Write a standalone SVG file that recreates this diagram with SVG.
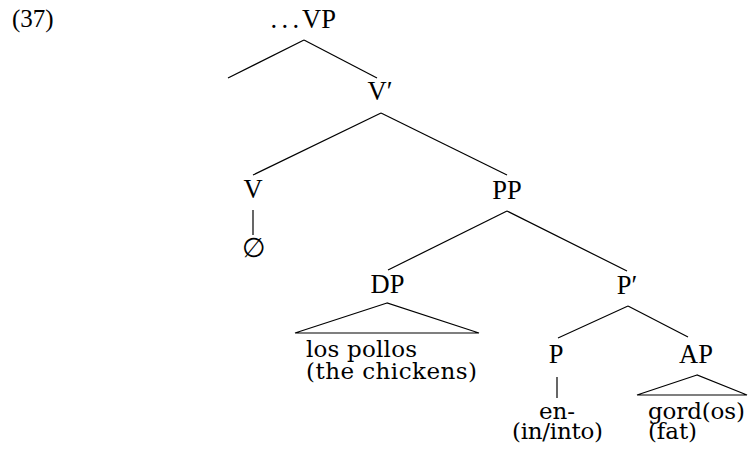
<svg xmlns="http://www.w3.org/2000/svg" width="749" height="460" viewBox="0 0 749 460">
<style>
  text { font-family: "Liberation Serif", "DejaVu Serif", serif; font-size: 26.5px; fill: #000; }
  .c { text-anchor: middle; }
  .leaf { font-family: "DejaVu Serif", "Liberation Serif", serif; font-size: 23px; }
  line, polygon { stroke: #000; stroke-width: 1.2; fill: none; }
</style>
<rect width="749" height="460" fill="#fff"/>
<text id="num" x="12" y="27" style="font-size:25px">(37)</text>
<g id="connectors">
  <line x1="304" y1="40" x2="228" y2="78"/>
  <line x1="304" y1="40" x2="377" y2="78"/>
  <line x1="381" y1="113" x2="253" y2="175"/>
  <line x1="381" y1="113" x2="507" y2="175"/>
  <line x1="253" y1="210" x2="253" y2="235"/>
  <line x1="507" y1="211" x2="388" y2="270"/>
  <line x1="507" y1="211" x2="627" y2="271"/>
  <polygon points="387,303 295,333 479,333"/>
  <line x1="628" y1="306" x2="558" y2="338"/>
  <line x1="628" y1="306" x2="688" y2="337"/>
  <line x1="557" y1="377" x2="557" y2="398"/>
  <polygon points="697,375 637,395 747,395"/>
</g>
<g id="node-VP"><text y="28"><tspan x="270.5 281.5 292.5">...</tspan><tspan x="302">VP</tspan></text></g>
<g id="node-Vbar"><text class="c" x="380" y="100">V′</text></g>
<g id="node-V"><text class="c" x="253" y="198">V</text></g>
<g id="node-empty"><text class="c" x="254" y="257">∅</text></g>
<g id="node-PP"><text class="c" x="507" y="199">PP</text></g>
<g id="node-DP"><text class="c" x="387.5" y="293">DP</text></g>
<g id="node-Pbar"><text class="c" x="627" y="294">P′</text></g>
<g id="node-DP-leaf">
  <text class="leaf" x="306" y="357" textLength="111">los pollos</text>
  <text class="leaf" x="306" y="379" textLength="171">(the chickens)</text>
</g>
<g id="node-P"><text class="c" x="556" y="363">P</text></g>
<g id="node-AP"><text class="c" x="696" y="363">AP</text></g>
<g id="node-P-leaf">
  <text class="leaf" x="539" y="419" textLength="36">en-</text>
  <text class="leaf" x="512" y="439" textLength="91">(in/into)</text>
</g>
<g id="node-AP-leaf">
  <text class="leaf" x="648" y="419" textLength="97">gord(os)</text>
  <text class="leaf" x="648" y="439" textLength="49">(fat)</text>
</g>
</svg>
